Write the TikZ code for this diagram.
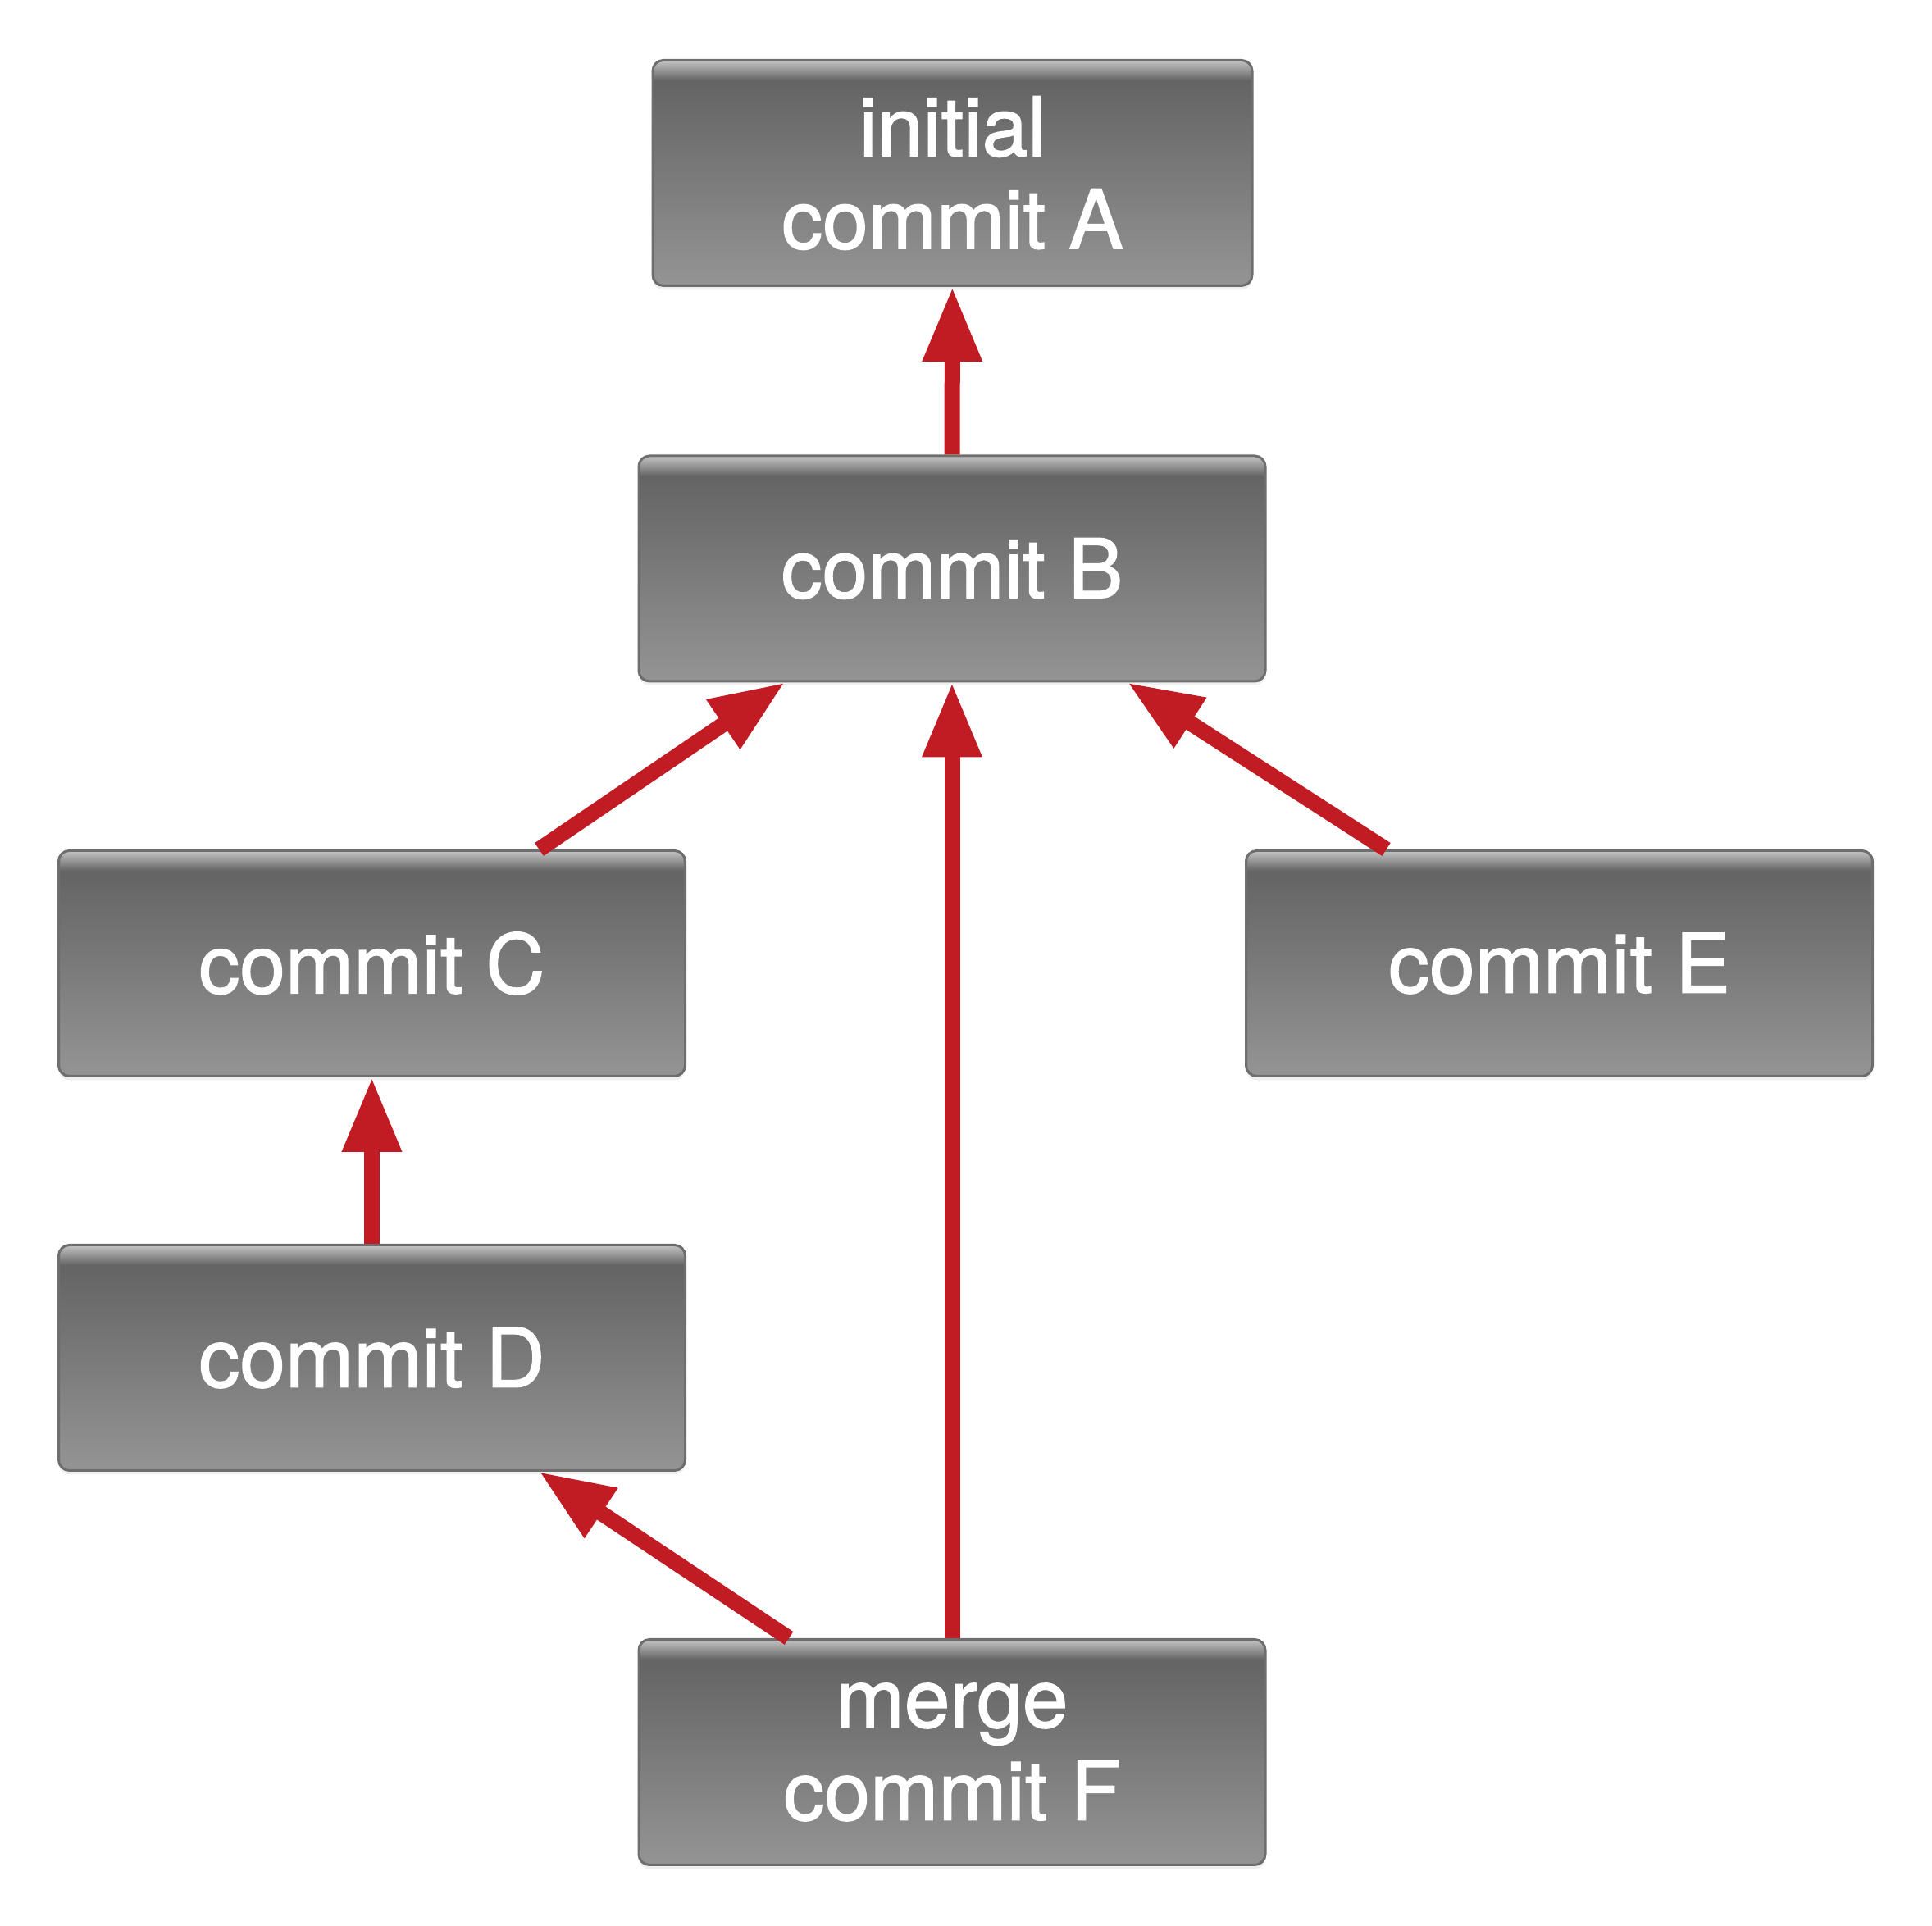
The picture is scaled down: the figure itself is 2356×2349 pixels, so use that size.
\documentclass[tikz,border=0pt]{standalone}
\usepackage{fontspec}
\setmainfont{TeX Gyre Heros}
\newfontfamily\commitfont{TeX Gyre Heros}[FakeBold=1.4]
\usetikzlibrary{arrows.meta,shadows}
\definecolor{boxtop}{RGB}{196,196,196}
\definecolor{boxhi}{RGB}{100,100,100}
\definecolor{boxlo}{RGB}{148,148,148}
\definecolor{boxrim}{RGB}{110,110,110}
\definecolor{linkred}{RGB}{193,27,36}
\pgfdeclareverticalshading{commitshade}{100bp}{color(0bp)=(boxlo); color(25bp)=(boxlo); color(70.5bp)=(boxhi); color(75bp)=(boxtop); color(100bp)=(boxtop)}

\begin{document}
\begin{tikzpicture}[x=1pt,y=1pt,
    commit/.style={draw=boxrim,line width=3pt,rounded corners=13pt,shading=commitshade,
      text=white,align=center,inner sep=0pt,minimum width=764pt,minimum height=275pt,
      font=\commitfont\fontsize{100}{113}\selectfont,
      drop shadow={shadow xshift=0pt,shadow yshift=-5pt,opacity=0.12}},
    parent/.style={linkred,line width=19pt,-{Triangle[length=91pt,width=68pt]}}]
    \useasboundingbox (0,0) rectangle (2356,2349);
    % commits
    \node[commit,minimum width=731pt] (A) at (1161.5,2138) {initial\\commit A};
    \node[commit] (B) at (1161,1655.5) {commit B};
    \node[commit] (C) at (453.5,1174) {commit C};
    \node[commit] (E) at (1901.5,1174) {commit E};
    \node[commit] (D) at (453.5,693) {commit D};
    \node[commit] (F) at (1161,212) {merge\\commit F};
    % parent links
    \draw[parent] (B) -- (A);
    \draw[parent] ([xshift=204pt]C.north) -- ([xshift=-204pt]B.south);
    \draw[parent] ([xshift=-211pt]E.north) -- ([xshift=214pt]B.south);
    \draw[parent] (F) -- (B);
    \draw[parent] (D) -- (C);
    \draw[parent] ([xshift=-199pt]F.north) -- ([xshift=204pt]D.south);
\end{tikzpicture}
\end{document}
